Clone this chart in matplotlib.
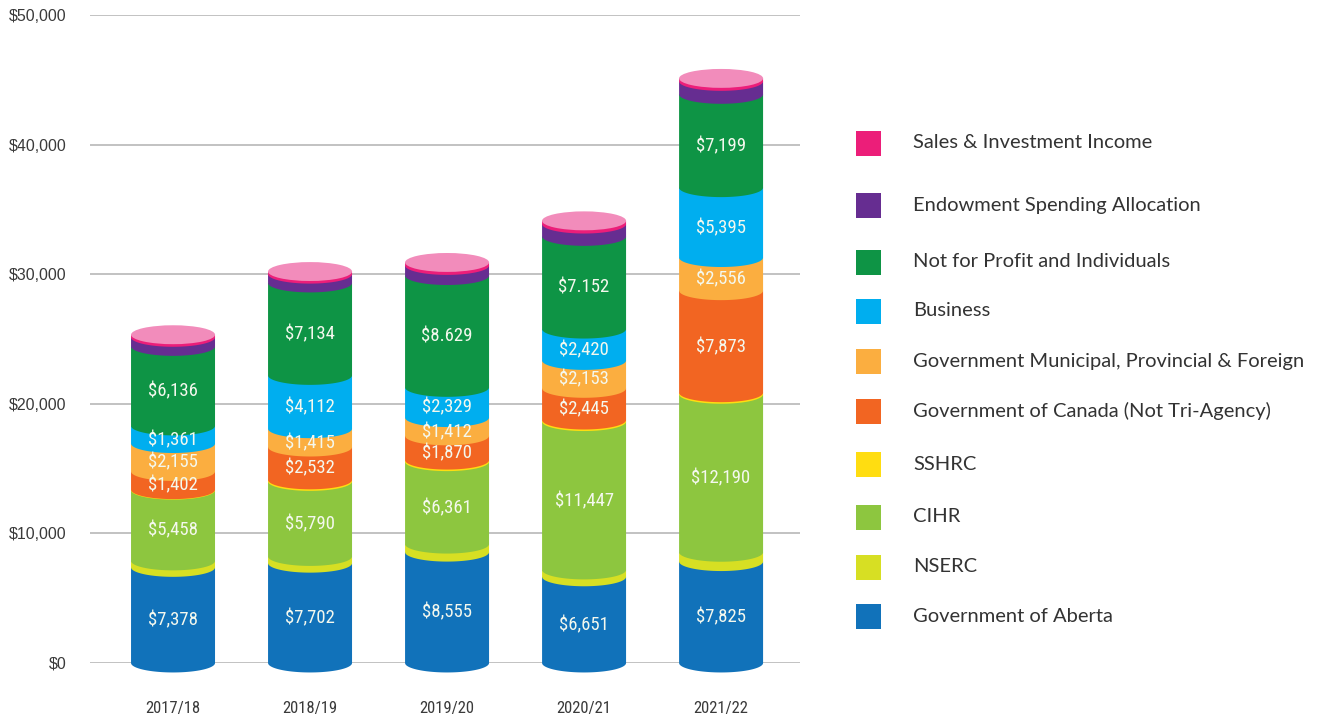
import numpy as np
import matplotlib
matplotlib.use("Agg")
import matplotlib.pyplot as plt
from matplotlib.patches import Polygon, Ellipse, Rectangle
from matplotlib import font_manager as fm

# ---------------- data ----------------
years = ["2017/18", "2018/19", "2019/20", "2020/21", "2021/22"]

gov_alberta = [7378, 7702, 8555, 6651, 7825]
nserc       = [500, 520, 620, 530, 720]
cihr        = [5458, 5790, 6361, 11447, 12190]
sshrc       = [40, 120, 120, 120, 120]
gov_canada  = [1402, 2532, 1870, 2445, 7873]
gov_muni    = [2155, 1415, 1412, 2153, 2556]
business    = [1361, 4112, 2329, 2420, 5395]
not_for_profit = [6136, 7134, 8629, 7152, 7199]
endowment   = [700, 680, 780, 950, 1000]
sales       = [200, 200, 230, 250, 230]

# labels as printed in the chart (two printed with a period)
nfp_labels = ["$6,136", "$7,134", "$8.629", "$7.152", "$7,199"]

series_names = ["Government of Aberta", "NSERC", "CIHR", "SSHRC",
                "Government of Canada (Not Tri-Agency)",
                "Government Municipal, Provincial & Foreign",
                "Business", "Not for Profit and Individuals",
                "Endowment Spending Allocation", "Sales & Investment Income"]
series_values = [gov_alberta, nserc, cihr, sshrc, gov_canada, gov_muni,
                 business, not_for_profit, endowment, sales]
series_colors = ["#1172BA", "#D7DF23", "#8DC63F", "#FFDD11", "#F26522",
                 "#FBAE40", "#00AEEF", "#0E9445", "#662D91", "#EC1E79"]
labelled = [True, False, True, False, True, True, True, True, False, False]
cap_color = "#F28CBB"

# condensed font choice
available = {f.name for f in fm.fontManager.ttflist}
cond_family = None
for cand in ["Roboto Condensed", "Liberation Sans Narrow", "Open Sans Condensed",
             "Noto Sans Condensed", "DejaVu Sans"]:
    if cand in available:
        cond_family = cand
        break
cond_kw = dict(family=cond_family, stretch="condensed")

# ---------------- figure ----------------
W, H = 1322, 721
fig = plt.figure(figsize=(W / 100, H / 100), dpi=100)
ax = fig.add_axes([90 / W, (H - 663) / H, 710 / W, (663 - 15) / H])
ax.set_ylim(0, 50000)
ax.set_xlim(-0.606, 4.576)

for yv in range(0, 50001, 10000):
    ax.axhline(yv, color="#BDBDBD", lw=1.3, zorder=0)

for s in ax.spines.values():
    s.set_visible(False)
ax.tick_params(length=0)
ax.set_yticks(range(0, 50001, 10000))
ax.set_yticklabels(["$0", "$10,000", "$20,000", "$30,000", "$40,000", "$50,000"],
                   fontsize=11.5, color="#3a3a3a", family="Liberation Sans")
ax.tick_params(axis="y", pad=17)
ax.set_xticks(range(len(years)))
ax.set_xticklabels(years, fontsize=12, color="#3a3a3a", **cond_kw)
ax.tick_params(axis="x", pad=27)

bw = 0.613      # bar width in axis units
eh = 730        # ellipse half-height in data units
t = np.linspace(np.pi, 2 * np.pi, 60)

vals = np.array(series_values, dtype=float)
cum = np.vstack([np.zeros(vals.shape[1]), np.cumsum(vals, axis=0)])

for i in range(len(years)):
    xl, xr = i - bw / 2, i + bw / 2
    for k in range(len(series_values)):
        b, tp = cum[k, i], cum[k + 1, i]
        arc_x = i + bw / 2 * np.cos(t)
        arc_y = b + eh * np.sin(t)
        pts = [(xl, tp)] + list(zip(arc_x, arc_y)) + [(xr, tp)]
        ax.add_patch(Polygon(pts, closed=True, facecolor=series_colors[k],
                             edgecolor="none", zorder=2 + k * 0.01, clip_on=False))
    # top cap
    ax.add_patch(Ellipse((i, cum[-1, i]), bw, 2 * eh, facecolor=cap_color,
                         edgecolor="none", zorder=3, clip_on=False))
    # value labels
    for k in range(len(series_values)):
        if not labelled[k]:
            continue
        b, tp = cum[k, i], cum[k + 1, i]
        txt = nfp_labels[i] if series_values[k] is not_for_profit else "${:,}".format(series_values[k][i])
        ax.text(i, (b + tp) / 2 - 0.55 * eh, txt, ha="center", va="center",
                color="#F4F8EE", fontsize=13.5, zorder=5, **cond_kw)

# ---------------- legend ----------------
leg_y = [143, 205, 262, 311, 361, 411, 464, 517, 567, 616]
order = list(range(len(series_names)))[::-1]
for yy, k in zip(leg_y, order):
    fig.patches.append(Rectangle((856 / W, (H - yy - 12.5) / H), 25 / W, 25 / H,
                                 transform=fig.transFigure,
                                 facecolor=series_colors[k], edgecolor="none"))
    fig.text(913 / W, (H - yy) / H, series_names[k], ha="left", va="center",
             fontsize=14.5, color="#333333", family=["Lato", "DejaVu Sans"])

fig.savefig("out.png", dpi=100)
